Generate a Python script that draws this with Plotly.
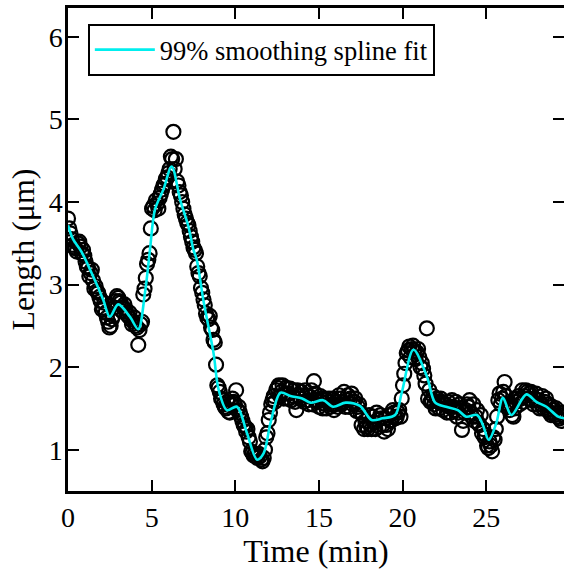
import plotly.graph_objects as go

# measured lengths (open circles), first sampling
time_a = [
    0.00, 0.15, 0.30, 0.45, 0.60, 0.75, 0.90, 1.05, 1.20, 1.35,
    1.50, 1.65, 1.80, 1.95, 2.10, 2.25, 2.40, 2.55, 2.70, 2.85,
    3.00, 3.15, 3.30, 3.45, 3.60, 3.75, 3.90, 4.05, 4.20, 4.35,
    4.50, 4.65, 4.80, 4.95, 5.10, 5.25, 5.40, 5.55, 5.70, 5.85,
    6.00, 6.15, 6.30, 6.45, 6.60, 6.75, 6.90, 7.05, 7.20, 7.35,
    7.50, 7.65, 7.80, 7.95, 8.10, 8.25, 8.40, 8.55, 8.70, 8.85,
    9.00, 9.15, 9.30, 9.45, 9.60, 9.75, 9.90, 10.05, 10.20, 10.35,
    10.50, 10.65, 10.80, 10.95, 11.10, 11.25, 11.40, 11.55, 11.70, 11.85,
    12.00, 12.15, 12.30, 12.45, 12.60, 12.75, 12.90, 13.05, 13.20, 13.35,
    13.50, 13.65, 13.80, 13.95, 14.10, 14.25, 14.40, 14.55, 14.70, 14.85,
    15.00, 15.15, 15.30, 15.45, 15.60, 15.75, 15.90, 16.05, 16.20, 16.35,
    16.50, 16.65, 16.80, 16.95, 17.10, 17.25, 17.40, 17.55, 17.70, 17.85,
    18.00, 18.15, 18.30, 18.45, 18.60, 18.75, 18.90, 19.05, 19.20, 19.35,
    19.50, 19.65, 19.80, 19.95, 20.10, 20.25, 20.40, 20.55, 20.70, 20.85,
    21.00, 21.15, 21.30, 21.45, 21.60, 21.75, 21.90, 22.05, 22.20, 22.35,
    22.50, 22.65, 22.80, 22.95, 23.10, 23.25, 23.40, 23.55, 23.70, 23.85,
    24.00, 24.15, 24.30, 24.45, 24.60, 24.75, 24.90, 25.05, 25.20, 25.35,
    25.50, 25.65, 25.80, 25.95, 26.10, 26.25, 26.40, 26.55, 26.70, 26.85,
    27.00, 27.15, 27.30, 27.45, 27.60, 27.75, 27.90, 28.05, 28.20, 28.35,
    28.50, 28.65, 28.80, 28.95, 29.10, 29.25, 29.40, 29.55, 29.70,
]
length_a = [
    3.80, 3.62, 3.48, 3.44, 3.50, 3.46, 3.42, 3.28, 3.20, 3.14,
    3.05, 2.98, 2.90, 2.80, 2.72, 2.66, 2.55, 2.50, 2.62, 2.80,
    2.84, 2.78, 2.72, 2.70, 2.62, 2.58, 2.55, 2.50, 2.27, 2.52,
    2.88, 3.08, 3.30, 3.68, 3.95, 4.02, 3.92, 4.10, 4.20, 4.28,
    4.35, 4.55, 4.85, 4.52, 4.20, 4.08, 3.92, 3.80, 3.72, 3.58,
    3.45, 3.38, 3.14, 2.96, 2.82, 2.65, 2.58, 2.48, 2.33, 2.03,
    1.75, 1.62, 1.55, 1.50, 1.46, 1.55, 1.58, 1.72, 1.52, 1.40,
    1.30, 1.22, 1.15, 0.98, 0.93, 0.92, 0.95, 0.88, 0.90, 1.15,
    1.36, 1.55, 1.65, 1.72, 1.78, 1.70, 1.62, 1.75, 1.68, 1.60,
    1.72, 1.48, 1.65, 1.70, 1.58, 1.66, 1.55, 1.72, 1.83, 1.60,
    1.52, 1.62, 1.56, 1.50, 1.62, 1.55, 1.48, 1.58, 1.66, 1.55,
    1.70, 1.60, 1.52, 1.68, 1.58, 1.47, 1.55, 1.30, 1.25, 1.28,
    1.42, 1.25, 1.33, 1.45, 1.28, 1.38, 1.22, 1.30, 1.42, 1.36,
    1.45, 1.40, 1.48, 1.62, 1.92, 2.17, 2.25, 2.22, 2.20, 2.18,
    2.12, 2.05, 1.90, 2.47, 1.72, 1.60, 1.55, 1.62, 1.50, 1.58,
    1.55, 1.45, 1.52, 1.60, 1.48, 1.40, 1.55, 1.24, 1.45, 1.55,
    1.60, 1.40, 1.35, 1.48, 1.30, 1.20, 1.15, 1.05, 1.10, 0.98,
    1.12, 1.40, 1.68, 1.62, 1.82, 1.55, 1.48, 1.42, 1.50, 1.62,
    1.55, 1.72, 1.65, 1.70, 1.68, 1.60, 1.62, 1.55, 1.50, 1.65,
    1.58, 1.48, 1.45, 1.52, 1.42, 1.40, 1.38, 1.45, 1.40,
]

# measured lengths, interleaved sampling
time_b = [
    0.075, 0.225, 0.375, 0.525, 0.675, 0.825, 0.975, 1.125, 1.275, 1.425,
    1.575, 1.725, 1.875, 2.025, 2.175, 2.325, 2.475, 2.625, 2.775, 2.925,
    3.075, 3.225, 3.375, 3.525, 3.675, 3.825, 3.975, 4.125, 4.275, 4.425,
    4.575, 4.725, 4.875, 5.025, 5.175, 5.325, 5.475, 5.625, 5.775, 5.925,
    6.075, 6.225, 6.375, 6.525, 6.675, 6.825, 6.975, 7.125, 7.275, 7.425,
    7.575, 7.725, 7.875, 8.025, 8.175, 8.325, 8.475, 8.625, 8.775, 8.925,
    9.075, 9.225, 9.375, 9.525, 9.675, 9.825, 9.975, 10.125, 10.275, 10.425,
    10.575, 10.725, 10.875, 11.025, 11.175, 11.325, 11.475, 11.625, 11.775, 11.925,
    12.075, 12.225, 12.375, 12.525, 12.675, 12.825, 12.975, 13.125, 13.275, 13.425,
    13.575, 13.725, 13.875, 14.025, 14.175, 14.325, 14.475, 14.625, 14.775, 14.925,
    15.075, 15.225, 15.375, 15.525, 15.675, 15.825, 15.975, 16.125, 16.275, 16.425,
    16.575, 16.725, 16.875, 17.025, 17.175, 17.325, 17.475, 17.625, 17.775, 17.925,
    18.075, 18.225, 18.375, 18.525, 18.675, 18.825, 18.975, 19.125, 19.275, 19.425,
    19.575, 19.725, 19.875, 20.025, 20.175, 20.325, 20.475, 20.625, 20.775, 20.925,
    21.075, 21.225, 21.375, 21.525, 21.675, 21.825, 21.975, 22.125, 22.275, 22.425,
    22.575, 22.725, 22.875, 23.025, 23.175, 23.325, 23.475, 23.625, 23.775, 23.925,
    24.075, 24.225, 24.375, 24.525, 24.675, 24.825, 24.975, 25.125, 25.275, 25.425,
    25.575, 25.725, 25.875, 26.025, 26.175, 26.325, 26.475, 26.625, 26.775, 26.925,
    27.075, 27.225, 27.375, 27.525, 27.675, 27.825, 27.975, 28.125, 28.275, 28.425,
    28.575, 28.725, 28.875, 29.025, 29.175, 29.325, 29.475, 29.625,
]
length_b = [
    3.68, 3.55, 3.45, 3.40, 3.52, 3.38, 3.35, 3.22, 3.10, 3.18,
    2.95, 2.92, 2.85, 2.70, 2.78, 2.60, 2.48, 2.58, 2.72, 2.86,
    2.80, 2.68, 2.76, 2.64, 2.66, 2.52, 2.60, 2.48, 2.45, 2.55,
    2.95, 3.25, 3.38, 3.92, 3.90, 3.98, 4.05, 4.15, 4.22, 4.30,
    4.40, 4.52, 4.40, 4.25, 4.12, 4.00, 3.85, 3.75, 3.65, 3.52,
    3.42, 3.22, 3.10, 2.90, 2.75, 2.60, 2.62, 2.45, 2.30, 1.78,
    1.70, 1.60, 1.52, 1.58, 1.45, 1.62, 1.55, 1.48, 1.45, 1.35,
    1.28, 1.25, 1.10, 0.96, 0.95, 0.90, 0.92, 0.86, 1.00, 1.20,
    1.45, 1.60, 1.58, 1.75, 1.65, 1.78, 1.68, 1.62, 1.74, 1.65,
    1.58, 1.72, 1.62, 1.66, 1.72, 1.60, 1.64, 1.55, 1.68, 1.58,
    1.65, 1.50, 1.62, 1.58, 1.52, 1.62, 1.55, 1.52, 1.62, 1.58,
    1.52, 1.66, 1.62, 1.55, 1.62, 1.52, 1.45, 1.42, 1.35, 1.25,
    1.30, 1.40, 1.25, 1.36, 1.42, 1.30, 1.38, 1.25, 1.35, 1.48,
    1.38, 1.45, 1.40, 1.78, 2.05, 2.20, 2.12, 2.26, 2.10, 2.22,
    2.00, 1.98, 1.80, 1.62, 1.58, 1.65, 1.50, 1.58, 1.62, 1.48,
    1.55, 1.58, 1.45, 1.52, 1.58, 1.45, 1.50, 1.35, 1.48, 1.52,
    1.45, 1.55, 1.40, 1.32, 1.42, 1.25, 1.18, 1.02, 1.05, 1.15,
    1.25, 1.60, 1.55, 1.70, 1.65, 1.52, 1.55, 1.40, 1.58, 1.65,
    1.62, 1.58, 1.72, 1.62, 1.70, 1.55, 1.68, 1.60, 1.55, 1.50,
    1.62, 1.55, 1.42, 1.48, 1.50, 1.45, 1.35, 1.42,
]

# 99% smoothing spline
fit_time = [
    0.0, 0.3, 0.8, 1.5, 2.1, 2.5, 3.0, 3.7, 4.2, 4.6,
    4.9, 5.2, 5.7, 6.2, 6.7, 7.2, 7.5, 7.7, 8.1, 8.7,
    9.0, 9.5, 10.1, 10.7, 11.3, 11.7, 12.1, 12.7, 13.3, 14.0,
    14.5, 15.25, 15.85, 16.6, 17.45, 18.15, 18.8, 19.55, 19.95, 20.65,
    21.45, 21.95, 22.6, 23.3, 23.8, 24.45, 24.8, 25.15, 25.6, 26.0,
    26.5, 27.4, 28.0, 28.6, 29.3, 29.7,
]
fit_length = [
    3.72, 3.55, 3.40, 3.10, 2.82, 2.61, 2.76, 2.61, 2.46, 2.90,
    3.42, 3.91, 4.15, 4.43, 4.03, 3.70, 3.42, 3.30, 2.80, 2.17,
    1.73, 1.48, 1.52, 1.20, 0.88, 0.96, 1.32, 1.69, 1.65, 1.62,
    1.57, 1.60, 1.52, 1.57, 1.53, 1.36, 1.38, 1.42, 1.69, 2.21,
    1.89, 1.57, 1.52, 1.48, 1.40, 1.42, 1.30, 1.12, 1.32, 1.63,
    1.42, 1.67, 1.58, 1.52, 1.40, 1.38,
]

serif = "Liberation Serif"

fig = go.Figure()

fig.add_trace(go.Scatter(x=time_a + time_b, y=length_a + length_b,
                         mode='markers',
                         marker=dict(symbol='circle-open', size=14, color='black',
                                     line=dict(color='black', width=2.2)),
                         showlegend=False,
                         hoverinfo='x+y'))

fig.add_trace(go.Scatter(x=fit_time, y=fit_length,
                         mode='lines',
                         line=dict(color='#00EEEE', width=2.6, shape='spline', smoothing=0.9),
                         name='99% smoothing spline fit'))

# invisible trace just to carry the right-hand ticks (no line on that side)
fig.add_trace(go.Scatter(x=[None], y=[None], yaxis='y2', showlegend=False, hoverinfo='skip'))

axis_common = dict(showgrid=False, zeroline=False, automargin=False,
                   ticks='inside', ticklen=11, tickwidth=2,
                   tickcolor='black', linecolor='black', linewidth=2.5,
                   tickfont=dict(family=serif, size=28, color='black'))

fig.update_layout(
    template='none',
    width=564, height=571,
    margin=dict(l=68, r=0, t=8, b=80),
    plot_bgcolor='white', paper_bgcolor='white',
    font=dict(family=serif, color='black'),
    xaxis=dict(range=[0, 29.65], tickvals=[0, 5, 10, 15, 20, 25], showline=True, mirror='ticks',
               title=dict(text='Time (min)', font=dict(family=serif, size=32), standoff=3),
               **axis_common),
    yaxis=dict(range=[0.5, 6.35], tickvals=[1, 2, 3, 4, 5, 6], showline=True,
               ticklabelstandoff=-3,
               title=dict(text='Length (μm)', font=dict(family=serif, size=32), standoff=5),
               **axis_common),
    yaxis2=dict(overlaying='y', side='right', matches='y', showline=False, showgrid=False,
                zeroline=False, automargin=False, ticks='inside', ticklen=11, tickwidth=2,
                tickcolor='black', tickvals=[1, 2, 3, 4, 5, 6], showticklabels=False),
    legend=dict(x=0.040, y=0.967, xanchor='left', yanchor='top', itemwidth=60,
                bordercolor='black', borderwidth=2, bgcolor='white',
                font=dict(family=serif, size=26.5, color='black')),
    showlegend=True,
)

# page body has a default 8px margin; drop it so the figure sits at the window corner
fig.write_html("out.html", config={'displayModeBar': False},
               post_script="document.body.style.margin='0';")
